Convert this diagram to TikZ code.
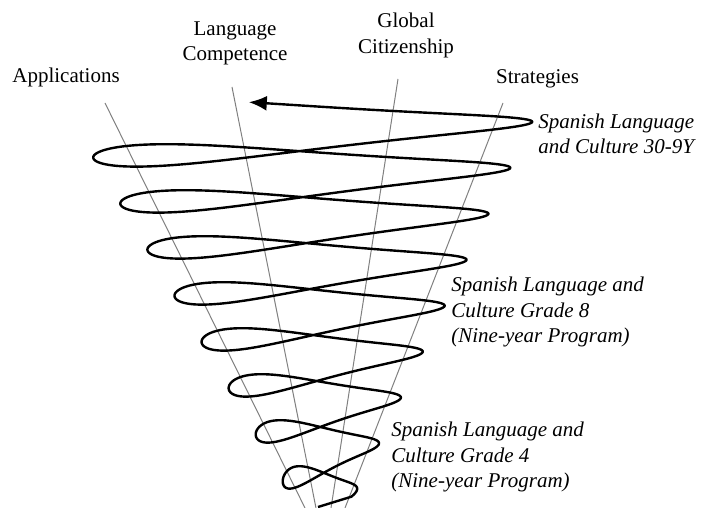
\documentclass[tikz,border=0pt]{standalone}
\usepackage{fontspec}
\setmainfont{Liberation Serif}
\usetikzlibrary{arrows.meta}
\tikzset{
  strand/.style={black!50, line width=0.5pt},
  lbl/.style={font=\fontsize{10.5}{12.6}\selectfont, align=center},
  course/.style={font=\fontsize{10.5}{12.6}\selectfont\itshape, align=left, anchor=west, inner sep=0pt},
}
\begin{document}
\begin{tikzpicture}[x=0.5pt, y=-0.5pt]
      \useasboundingbox (0,0) rectangle (702,508);
      % strand names
      \node [lbl] (app) at (66,77) {Applications};
      \node [lbl] (lang) at (235,43.5) {Language\\Competence};
      \node [lbl] (glob) at (406,35.5) {Global\\Citizenship};
      \node [lbl] (strat) at (537.5,79) {Strategies};
      % the four strands
      \coordinate (app1) at (105,103);   \coordinate (app2) at (305,508);
      \coordinate (lang1) at (232,87);   \coordinate (lang2) at (316,508);
      \coordinate (glob1) at (398,79);   \coordinate (glob2) at (331,508);
      \coordinate (strat1) at (503,103); \coordinate (strat2) at (345,508);
      \draw [strand] (app1) -- (app2);
      \draw [strand] (lang1) -- (lang2);
      \draw [strand] (glob1) -- (glob2);
      \draw [strand] (strat1) -- (strat2);
      % the spiral
      \coordinate (start) at (318,507);
      \draw [line width=1.2pt, line join=round, -{Latex[length=9pt, width=7.5pt]}, domain=-30:2984, samples=1500, variable=\t]
        (start) -- plot ({326.75 - (\t/360)*2.6 + (30.25 + (\t/360)*24.5)*cos(\t)},
              {496 - (\t/360)*46 - (4 + 6.75*(1-cos(\t))*(1-cos(\t)))*sin(\t) - 6*cos(\t)});
      % courses
      \node [course] (s30) at (538,133.5) {Spanish Language\\and Culture 30-9Y};
      \node [course] (s8) at (451,312) {Spanish Language and\\Culture Grade 8\\(Nine-year Program)};
      \node [course] (s4) at (391,457) {Spanish Language and\\Culture Grade 4\\(Nine-year Program)};
    \end{tikzpicture}
\end{document}
